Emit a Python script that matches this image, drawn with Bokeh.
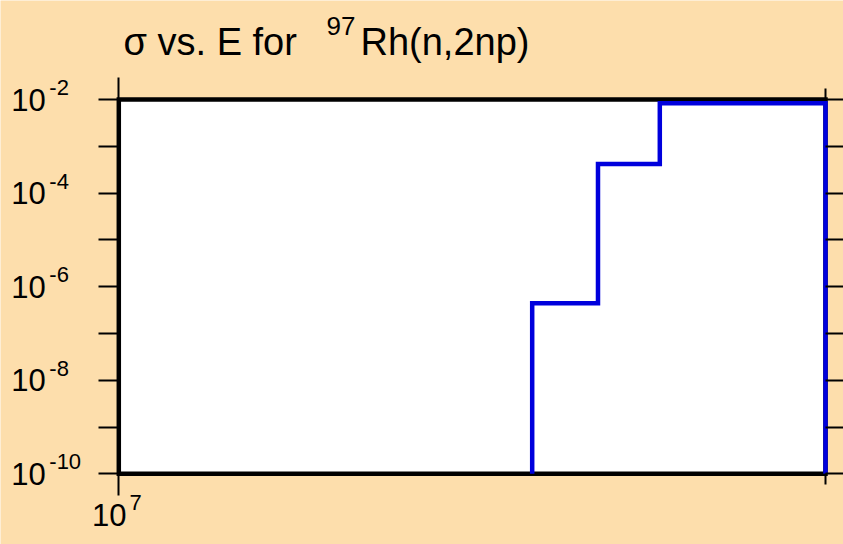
import math
from bokeh.plotting import figure
from bokeh.models import LogAxis, FixedTicker, Label, Range1d, LogScale, CustomJSTickFormatter
from bokeh.embed import file_html
from bokeh.resources import INLINE

# ---- data ----
energy_edges = [1.5e7, 1.6e7, 1.7e7, 2.0e7]      # eV, bin edges
cross_section = [4.4e-7, 4.2e-4, 8.3e-3]         # b, value in each bin
x_limits = [1e7, 2e7]
y_limits = [1e-10, 1e-2]
y_label_values = [1e-2, 1e-4, 1e-6, 1e-8, 1e-10]
y_label_exps = ["-2", "-4", "-6", "-8", "-10"]
y_minor_values = [1e-3, 1e-5, 1e-7, 1e-9]
x_major_ticks = [1e7]
x_minor_ticks = [2e7]
x_label_values = [1e7]
x_label_exps = ["7"]
tick_base = "10"

BG = "#FDDEAC"
FONT = "Liberation Sans"
MID = 0.3465  # baseline sits this many em below the middle of the text box

# ---- layout (pixels) ----
W, H = 843, 544
M_LEFT, M_RIGHT, M_TOP, M_BOTTOM = 118.3, 18.0, 99.0, 70.7

kx = (math.log10(x_limits[1]) - math.log10(x_limits[0])) / (W - M_LEFT - M_RIGHT)
ky = (math.log10(y_limits[1]) - math.log10(y_limits[0])) / (H - M_TOP - M_BOTTOM)
x_view = (10 ** (math.log10(x_limits[0]) - M_LEFT * kx), 10 ** (math.log10(x_limits[1]) + M_RIGHT * kx))
y_view = (10 ** (math.log10(y_limits[0]) - M_BOTTOM * ky), 10 ** (math.log10(y_limits[1]) + M_TOP * ky))

p = figure(width=W, height=H, x_axis_type=None, y_axis_type=None,
           x_range=Range1d(*x_view), y_range=Range1d(*y_view),
           output_backend="svg", toolbar_location=None, title=None,
           background_fill_color=BG, border_fill_color=BG,
           min_border=0, min_border_left=0, min_border_right=0,
           min_border_top=0, min_border_bottom=0)
p.x_scale = LogScale()
p.y_scale = LogScale()
p.outline_line_color = None

# plot area (white box with heavy black frame)
p.quad(left=[x_limits[0]], right=[x_limits[1]], bottom=[y_limits[0]], top=[y_limits[1]],
       fill_color="white", line_color="black", line_width=4.5, line_join="miter")


def style_axis(ax, major_out, minor_out, label_code="return ''"):
    ax.axis_line_color = None
    ax.formatter = CustomJSTickFormatter(code=label_code)
    ax.major_tick_out = major_out
    ax.major_tick_in = 0
    ax.minor_tick_out = minor_out
    ax.minor_tick_in = 0
    ax.major_tick_line_width = 2
    ax.minor_tick_line_width = 2
    ax.major_tick_line_color = "black"
    ax.minor_tick_line_color = "black"


left = LogAxis(ticker=FixedTicker(ticks=y_label_values, minor_ticks=y_minor_values),
               fixed_location=x_limits[0])
style_axis(left, 20, 20, "return '%s'" % tick_base)
left.major_label_text_font = FONT
left.major_label_text_font_size = "31px"
left.major_label_text_color = "black"
left.major_label_standoff = 53
p.add_layout(left, "left")

right = LogAxis(ticker=FixedTicker(ticks=y_label_values, minor_ticks=y_minor_values),
                fixed_location=x_limits[1])
style_axis(right, 20, 20)
right.major_label_text_font_size = "1px"
p.add_layout(right, "right")

below = LogAxis(ticker=FixedTicker(ticks=x_major_ticks, minor_ticks=x_minor_ticks),
                fixed_location=y_limits[0])
style_axis(below, 22, 11)
below.major_label_text_font_size = "1px"
p.add_layout(below, "below")

above = LogAxis(ticker=FixedTicker(ticks=x_major_ticks, minor_ticks=x_minor_ticks),
                fixed_location=y_limits[1])
style_axis(above, 22, 11)
above.major_label_text_font_size = "1px"
p.add_layout(above, "above")

# ---- step curve built from the data ----
xs = [energy_edges[0]]
ys = [y_limits[0]]
for i, s in enumerate(cross_section):
    xs += [energy_edges[i], energy_edges[i + 1]]
    ys += [s, s]
xs.append(energy_edges[-1])
ys.append(y_limits[0])
p.line(xs, ys, line_color="#0000DD", line_width=4.5, line_join="miter")


def text_at(x, y, text, size, dx, baseline_dy):
    """Place text so that its alphabetic baseline is baseline_dy px above (x, y)."""
    p.add_layout(Label(x=x, y=y, text=text, x_offset=dx, y_offset=baseline_dy + MID * size,
                       text_font=FONT, text_font_size="%dpx" % size, text_color="black",
                       text_baseline="middle", text_align="left"))


# ---- exponents of the y tick labels ----
for v, e in zip(y_label_values, y_label_exps):
    text_at(x_limits[0], v, e, 22, -69.5, 4.4)

# ---- x tick label ----
for v, e in zip(x_label_values, x_label_exps):
    text_at(v, y_limits[0], tick_base, 31, -26.7, -51.7)
    text_at(v, y_limits[0], e, 22, 10.7, -36.7)

# ---- title ----
text_at(x_limits[0], y_limits[1], "σ vs. E for", 38, 4.7, 44)
text_at(x_limits[0], y_limits[1], "97", 26, 207.7, 64)
text_at(x_limits[0], y_limits[1], "Rh(n,2np)", 38, 241.7, 44)

open("out.html", "w").write(file_html(p, INLINE))
